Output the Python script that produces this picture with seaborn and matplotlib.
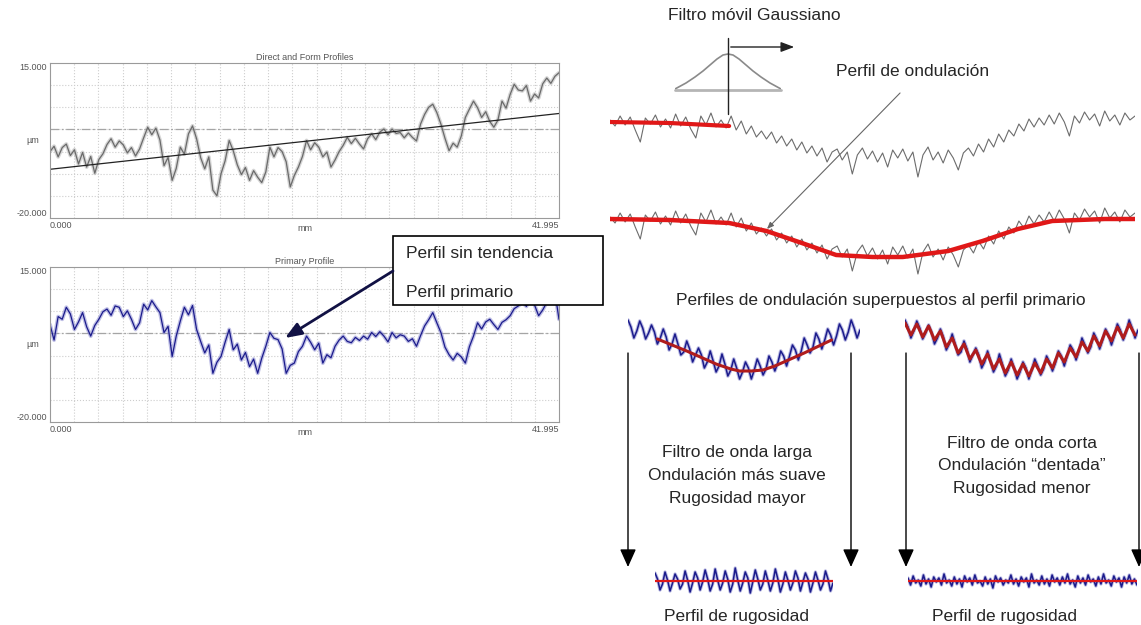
import numpy as np
import matplotlib
matplotlib.use("Agg")
import matplotlib.pyplot as plt
import seaborn as sns
from matplotlib.patches import Rectangle

sns.set_theme(style="white")
plt.rcParams["font.family"] = ["Liberation Sans", "DejaVu Sans"]

W, H = 1141, 625

# -----------------------------
# Data
# -----------------------------
profile_length_mm = 41.995
y_range_um = [-20, 15]
x_tick_labels = ["0.000", "41.995"]
y_tick_labels = ["-20.000", "15.000"]

# measured (direct) profile, um
direct_profile_um = [
    -5.0, -3.8, -6.2, -4.1, -3.3, -5.9, -4.6, -7.8, -5.2, -8.5, -6.1, -9.9, -6.8, -5.5,
    -3.4, -2.1, -4.0, -2.6, -3.5, -5.3, -4.1, -6.0, -4.4, -1.9, 0.5, -1.2, 0.3, -2.4,
    -8.2, -6.3, -11.5, -8.8, -4.0, -5.6, -1.0, 0.8, -2.1, -6.4, -8.9, -6.2, -13.7, -15.0,
    -10.0, -7.1, -2.5, -4.8, -8.0, -10.2, -8.6, -11.5, -9.3, -10.8, -12.0, -9.6, -4.0, -6.2,
    -4.1, -5.0, -7.3, -13.0, -10.4, -8.5, -6.1, -2.5, -4.6, -3.0, -4.0, -6.2, -5.1, -8.5,
    -6.9, -5.0, -3.6, -1.8, -3.2, -2.0, -3.3, -4.4, -2.1, -1.0, -2.3, -0.6, 0.1, -1.2,
    0.1, -0.9, -0.7, -1.9, -0.8, -1.8, -2.6, 1.2, 3.4, 5.0, 5.7, 3.8, 1.2, -2.0,
    -4.8, -3.1, -4.0, -1.5, 2.7, 4.6, 6.4, 4.9, 2.7, 4.0, 1.8, 0.5, 2.1, 6.4,
    4.8, 7.9, 10.2, 8.9, 8.7, 9.9, 6.4, 8.0, 7.1, 10.3, 11.6, 10.4, 12.0, 12.8,
]
# fitted form line, start and end value (um)
form_line_um = [-9.0, 3.6]

# primary profile after removing the form, um
primary_profile_um = [
    2.0, -1.5, 3.8, 3.2, 5.9, 4.4, 0.9, 2.6, 4.7, 1.5, -0.6, 1.8, 3.2, 4.9,
    5.5, 4.1, 6.2, 5.9, 3.8, 5.1, 3.2, 0.9, 2.4, 6.6, 5.3, 7.4, 6.0, 4.7,
    0.2, 1.6, -5.2, -0.6, 2.8, 5.9, 4.2, 6.3, 0.9, -1.8, -4.4, -2.6, -9.0, -6.5,
    -5.2, -2.0, 0.9, -3.7, -2.4, -6.0, -4.3, -7.5, -5.8, -9.0, -5.6, -2.9, 0.2, -1.1,
    -1.4, -3.5, -9.0, -7.2, -6.7, -4.1, -2.9, -0.6, -2.0, -3.7, -2.2, -6.7, -4.8, -5.5,
    -2.9, -1.5, -0.6, -1.8, -2.1, -0.9, -1.6, -0.6, -1.3, 0.2, -0.7, 0.4, -0.6, -1.9,
    0.2, -1.0, -0.3, -0.6, -1.8, -1.2, -2.9, -0.5, 1.7, 3.1, 4.7, 2.4, 0.2, -3.1,
    -4.8, -6.0, -4.5, -5.3, -6.7, -3.0, -0.6, 2.4, 1.0, 2.6, 3.2, 2.0, 0.9, 2.5,
    3.1, 4.0, 5.6, 6.2, 7.0, 6.1, 8.5, 6.4, 4.0, 5.3, 7.0, 8.2, 9.3, 3.2,
]

# schematic: gaussian weighting window
gauss_offset = [-53, -42, -33, -25, -18, -11, -5, 0, 5, 11, 18, 25, 33, 42, 53]
gauss_weight = [1, 7, 13, 19, 25, 31, 35, 36, 35, 31, 25, 19, 13, 7, 1]

# schematic: raw primary trace (gray)
primary_trace = [
    2, -4, 6, -3, 5, -8, -20, 4, -2, 7, -5, 3, -6, 8, -4, 5, -7, -16, 6, -3, 9, -5, 2, -6,
    6, -8, 1, -12, -4, -15, -9, -17, -10, -21, -14, -24, -17, -28, -20, -31, -24, -34, -26, -40, -30,
    -27, -38, -30, -52, -33, -26, -37, -29, -40, -31, -45, -28, -36, -27, -39, -30, -55, -33, -25,
    -38, -30, -41, -28, -36, -48, -31,
    -26, -34, -22, -30, -17, -25, -12, -20, -8, -14, -2, -9, 3, -5,
    4, -3, 7, -2, 9, 0, -14, 6, -1, 10, 2, 8, -4, 11, 1, 7, -3, 9, 2, 6,
]
# waviness (red) on the same trace
waviness_pos = [0, 11.8, 23.6, 31, 38, 44.8, 52, 58, 67, 73.8, 80.8, 87.6, 98, 104]
waviness_trace = [0, -1, -4, -12, -24, -36, -38, -38, -32, -22, -10, -2, 0, 0]

# schematic: primary trace with periodic texture (blue)
textured_trace = [
    8, 1, -10, -3, 7, 0, -11, -5, 3, -4, -16, -10, -1, -9, -22, -16,
    -6, -16, -27, -24, -13, -21, -34, -27, -20, -27, -40, -34, -23, -33,
    -44, -38, -26, -36, -48, -42, -31, -40, -51, -44, -34, -40, -51, -42,
    -31, -38, -47, -41, -28, -34, -43, -35, -23, -28, -38, -28, -17, -22,
    -32, -23, -10, -17, -25, -19, -5, -11, -21, -12, -1, -7, -17, -8,
    4, -2, -12, -4, 8, 0, -10, -2,
]
long_wave_pos = [10, 20, 30, 35, 38, 42, 46, 50, 60, 69.3]
long_wave_trace = [-11, -23, -36, -41, -43, -43, -42, -38, -25, -12]
short_wave_trace = [
    5, -7, 4, -9, 2, -12, -3, -19, -10, -25, -16, -31, -22, -36, -26, -41, -31, -45, -34, -47,
    -36, -48, -35, -45, -31, -40, -25, -34, -20, -29, -14, -23, -8, -18, -3, -13, 1, -10, 4, -7,
]

# schematic: roughness after each filter
roughness_long = [
    8, 2, -9, -3, 9, 1, -10, -2, 7, 2, -8, -3, 10, 1, -11, -2, 9, 3, -9, -1,
    11, 2, -10, -3, 12, 1, -9, -2, 10, 2, -11, -3, 13, 1, -10, -2, 9, 3, -12, -1,
    11, 2, -9, -3, 10, 1, -10, -2, 12, 2, -11, -3, 9, 1, -9, -2, 10, 3, -10, -1,
    8, 2, -11, -2, 9, 1, -9, -3, 10, 2, -10, -2,
]
roughness_short = [
    3, -4, 5, -2, 1, -5, 6, -3, 2, -6, 4, -1, 3, -4, 7, -2, 1, -5, 4, -3,
    2, -6, 5, -1, 3, -4, 6, -2, 0, -5, 4, -3, 2, -7, 5, -1, 3, -4, 1, -2,
    6, -3, 2, -5, 4, -1, 3, -6, 7, -2, 1, -4, 5, -3, 2, -5, 6, -1, 3, -4,
    4, -2, 7, -3, 1, -6, 5, -2, 3, -4, 6, -1, 2, -5, 4, -3, 7, -2, 1, -5,
    5, -1, 3, -6, 4, -2, 6, -3, 2, -4,
]

GRAY = "#6c6c6c"
NAVY = "#1b1b8c"
HALO_BLUE = "#8c8cd0"
RED = "#e01818"
DARKRED = "#b01c1c"
LABEL = "#555555"

fig = plt.figure(figsize=(W / 100, H / 100), dpi=100)


def px_axes(x0, y0, x1, y1):
    ax = fig.add_axes([x0 / W, 1 - y1 / H, (x1 - x0) / W, (y1 - y0) / H])
    ax.set_axis_off()
    return ax


def profile_chart(y0, y1, title, values, color, halo):
    ax = fig.add_axes([50 / W, 1 - y1 / H, 509 / W, (y1 - y0) / H])
    x = np.linspace(0, profile_length_mm, len(values))
    sns.lineplot(x=x, y=values, ax=ax, color=halo, lw=2.8, alpha=0.55, estimator=None)
    sns.lineplot(x=x, y=values, ax=ax, color=color, lw=0.9, estimator=None)
    ax.set_xlim(0, profile_length_mm)
    ax.set_ylim(*y_range_um)
    ax.set_xticks(np.arange(0, 42, 2), minor=True)
    ax.set_yticks(np.arange(-20, 16, 5), minor=True)
    ax.grid(which="minor", color="#cdcdcd", ls=":", lw=0.8)
    ax.axhline(0, color="#a5a5a5", lw=0.9, ls=(0, (7, 2, 1.5, 2)), zorder=1)
    ax.set_xticks([0, profile_length_mm])
    ax.set_xticklabels(x_tick_labels)
    ax.set_yticks(y_range_um)
    ax.set_yticklabels(y_tick_labels)
    ax.tick_params(which="both", length=0, labelsize=6.5, labelcolor=LABEL, pad=2)
    xl = ax.get_xticklabels()
    xl[0].set_ha("left")
    xl[1].set_ha("right")
    yl = ax.get_yticklabels()
    yl[0].set_va("bottom")
    yl[1].set_va("top")
    ax.text(0.5, -0.04, "mm", transform=ax.transAxes, ha="center", va="top",
            fontsize=6.5, color=LABEL)
    ax.text(-0.022, 0.5, "µm", transform=ax.transAxes, ha="right", va="center",
            fontsize=6.5, color=LABEL)
    ax.set_title(title, fontsize=6.5, color=LABEL, pad=2)
    for s in ax.spines.values():
        s.set_color("#9a9a9a")
        s.set_linewidth(0.8)
    return ax


# left: measured profile + form line
ax_top = profile_chart(63, 218, "Direct and Form Profiles", direct_profile_um,
                       "#6a6a6a", "#b4b4b4")
sns.lineplot(x=[0, profile_length_mm], y=form_line_um, ax=ax_top, color="#222222", lw=0.9)

# left: primary profile
ax_bot = profile_chart(267, 422, "Primary Profile", primary_profile_um, NAVY, HALO_BLUE)

# gaussian window
ax_g = px_axes(675, 50, 781, 90)
sns.lineplot(x=gauss_offset, y=gauss_weight, ax=ax_g, color="#8a8a8a", lw=1.2)
ax_g.axhline(0, color="#b5b5b5", lw=2, clip_on=False)
ax_g.set_xlim(gauss_offset[0], gauss_offset[-1])
ax_g.set_ylim(0, 40)

# primary trace with the filter starting on it
trace_x = np.arange(len(primary_trace))
ax_p1 = px_axes(610, 107, 1135, 182)
sns.lineplot(x=trace_x, y=primary_trace, ax=ax_p1, color=GRAY, lw=0.8)
sns.lineplot(x=waviness_pos[:3], y=waviness_trace[:3], ax=ax_p1, color=RED, lw=3)
ax_p1.set_xlim(0, len(primary_trace) - 1)
ax_p1.set_ylim(-60, 15)

# full waviness over the trace
ax_p2 = px_axes(610, 199, 1135, 279)
sns.lineplot(x=trace_x, y=primary_trace, ax=ax_p2, color=GRAY, lw=0.8)
sns.lineplot(x=waviness_pos, y=waviness_trace, ax=ax_p2, color=RED, lw=3.2)
ax_p2.set_xlim(0, len(primary_trace) - 1)
ax_p2.set_ylim(-60, 20)

# long / short wave filter on the textured trace
tex_x = np.arange(len(textured_trace))
for x0, x1, wx, wy in [(628, 860, long_wave_pos, long_wave_trace),
                       (905, 1138, np.arange(0, len(textured_trace), 2), short_wave_trace)]:
    ax_v = px_axes(x0, 313, x1, 388)
    sns.lineplot(x=tex_x, y=textured_trace, ax=ax_v, color=HALO_BLUE, lw=2.6, alpha=0.6)
    sns.lineplot(x=tex_x, y=textured_trace, ax=ax_v, color=NAVY, lw=1.1)
    sns.lineplot(x=wx, y=wy, ax=ax_v, color=DARKRED, lw=2.2)
    ax_v.set_xlim(0, len(textured_trace) - 1)
    ax_v.set_ylim(-60, 15)

# resulting roughness
for x0, x1, vals in [(655, 833, roughness_long), (908, 1137, roughness_short)]:
    ax_r = px_axes(x0, 565, x1, 597)
    rx = np.arange(len(vals))
    sns.lineplot(x=rx, y=vals, ax=ax_r, color=HALO_BLUE, lw=2.4, alpha=0.6)
    sns.lineplot(x=rx, y=vals, ax=ax_r, color=NAVY, lw=1.1)
    ax_r.axhline(0, color=RED, lw=1.6)
    ax_r.set_xlim(0, len(vals) - 1)
    ax_r.set_ylim(-16, 16)

# -----------------------------
# Overlay: texts, arrows, box
# -----------------------------
ov = fig.add_axes([0, 0, 1, 1])
ov.set_xlim(0, W)
ov.set_ylim(H, 0)
ov.set_axis_off()
ov.patch.set_alpha(0)

fs = 12.5
ov.text(754, 15, "Filtro móvil Gaussiano", ha="center", va="center", fontsize=fs)
ov.plot([728, 728], [38, 114], color="#222222", lw=1)
ov.annotate("", xy=(797, 47), xytext=(728, 47),
            arrowprops=dict(arrowstyle="-|>,head_length=0.8,head_width=0.3",
                            color="#222222", lw=1, mutation_scale=10))
ov.text(913, 71, "Perfil de ondulación", ha="center", va="center", fontsize=fs)
ov.annotate("", xy=(765, 231), xytext=(902, 91),
            arrowprops=dict(arrowstyle="-|>,head_length=0.5,head_width=0.2",
                            color="#666666", lw=0.8, mutation_scale=8))
ov.text(881, 300, "Perfiles de ondulación superpuestos al perfil primario",
        ha="center", va="center", fontsize=fs)

for xa in [628, 851, 906, 1139]:
    ov.annotate("", xy=(xa, 567), xytext=(xa, 353),
                arrowprops=dict(arrowstyle="-|>,head_length=1.0,head_width=0.45",
                                color="black", lw=1, mutation_scale=11,
                                shrinkA=0, shrinkB=0))

for i, t in enumerate(["Filtro de onda larga", "Ondulación más suave", "Rugosidad mayor"]):
    ov.text(737, 452 + 23 * i, t, ha="center", va="center", fontsize=fs)
for i, t in enumerate(["Filtro de onda corta", "Ondulación “dentada”", "Rugosidad menor"]):
    ov.text(1022, 443 + 22.5 * i, t, ha="center", va="center", fontsize=fs)
ov.text(737, 616, "Perfil de rugosidad", ha="center", va="center", fontsize=fs)
ov.text(1004, 616, "Perfil de rugosidad", ha="center", va="center", fontsize=fs)

# callout box on the primary profile
ov.add_patch(Rectangle((393, 236), 210, 69, facecolor="white", edgecolor="black", lw=1.2))
ov.text(406, 254, "Perfil sin tendencia", ha="left", va="center", fontsize=12.5)
ov.text(406, 292, "Perfil primario", ha="left", va="center", fontsize=12.5)
ov.annotate("", xy=(285, 338), xytext=(393, 271),
            arrowprops=dict(arrowstyle="-|>,head_length=0.9,head_width=0.35",
                            color="#111144", lw=2, mutation_scale=11,
                            shrinkA=0, shrinkB=0))

fig.savefig("out.png", dpi=100)
